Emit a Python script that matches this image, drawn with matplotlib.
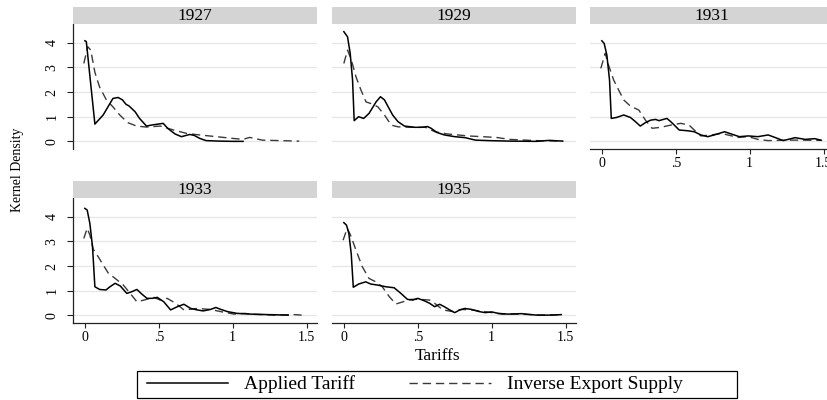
import numpy as np
import matplotlib
matplotlib.use("Agg")
import matplotlib.pyplot as plt
from matplotlib.patches import Rectangle

plt.rcParams['font.family'] = ['Liberation Serif', 'DejaVu Serif']

years = ['1927', '1929', '1931', '1933', '1935']

# Applied tariff (solid) and inverse export supply (dashed)
x_app_1927 = [0, 0.01, 0.068, 0.124, 0.19, 0.225, 0.255, 0.277, 0.30, 0.34, 0.37, 0.417, 0.45, 0.495,
              0.53, 0.56, 0.61, 0.653, 0.71, 0.74, 0.777, 0.82, 0.91, 1.0, 1.07]
y_app_1927 = [4.08, 4.05, 0.70, 1.07, 1.74, 1.78, 1.68, 1.51, 1.43, 1.2, 0.93, 0.62, 0.66, 0.70,
              0.73, 0.53, 0.30, 0.19, 0.28, 0.24, 0.12, 0.03, 0.01, 0.0, 0.0]
x_ies_1927 = [-0.007, 0.02, 0.04, 0.068, 0.1, 0.146, 0.19, 0.236, 0.29, 0.35, 0.417, 0.51, 0.6, 0.69,
              0.777, 0.89, 1.0, 1.07, 1.115, 1.2, 1.32, 1.45]
y_ies_1927 = [3.16, 3.84, 3.7, 2.8, 2.2, 1.68, 1.4, 1.07, 0.76, 0.62, 0.58, 0.62, 0.46, 0.32,
              0.26, 0.19, 0.12, 0.08, 0.16, 0.05, 0.03, 0.01]

x_app_1929 = [0, 0.025, 0.043, 0.059, 0.07, 0.1, 0.134, 0.17, 0.218, 0.248, 0.275, 0.3, 0.33, 0.366,
              0.41, 0.48, 0.525, 0.566, 0.59, 0.63, 0.68, 0.75, 0.82, 0.89, 0.98, 1.12, 1.3, 1.39, 1.48]
y_app_1929 = [4.45, 4.24, 3.57, 2.49, 0.84, 1.0, 0.93, 1.13, 1.6, 1.81, 1.68, 1.4, 1.07, 0.8,
              0.62, 0.57, 0.57, 0.6, 0.53, 0.36, 0.26, 0.19, 0.15, 0.05, 0.03, 0.01, 0.0, 0.04, 0.01]
x_ies_1929 = [0, 0.025, 0.048, 0.082, 0.116, 0.15, 0.195, 0.23, 0.275, 0.32, 0.366, 0.457, 0.55,
              0.616, 0.7, 0.84, 1.03, 1.12, 1.3, 1.48]
y_ies_1929 = [3.16, 3.7, 3.36, 2.62, 2.08, 1.6, 1.51, 1.4, 1.07, 0.66, 0.59, 0.57, 0.57,
              0.39, 0.3, 0.22, 0.16, 0.08, 0.03, 0.01]

x_app_1931 = [0, 0.016, 0.034, 0.052, 0.064, 0.1, 0.148, 0.193, 0.227, 0.26, 0.295, 0.33, 0.364,
              0.386, 0.44, 0.466, 0.5, 0.523, 0.58, 0.625, 0.67, 0.716, 0.76, 0.83, 0.875, 0.93,
              0.99, 1.055, 1.125, 1.17, 1.227, 1.307, 1.375, 1.44, 1.48]
y_app_1931 = [4.08, 3.97, 3.5, 2.49, 0.93, 0.97, 1.07, 0.97, 0.8, 0.62, 0.76, 0.86, 0.89,
              0.84, 0.93, 0.8, 0.6, 0.46, 0.43, 0.39, 0.26, 0.19, 0.26, 0.39, 0.3, 0.19,
              0.22, 0.19, 0.26, 0.16, 0.03, 0.15, 0.08, 0.11, 0.05]
x_ies_1931 = [-0.007, 0.023, 0.045, 0.08, 0.114, 0.148, 0.193, 0.25, 0.295, 0.34, 0.4, 0.466, 0.534,
              0.59, 0.625, 0.67, 0.74, 0.81, 0.852, 0.92, 0.99, 1.055, 1.125, 1.26, 1.35, 1.49]
y_ies_1931 = [2.96, 3.57, 3.1, 2.49, 2.08, 1.68, 1.43, 1.27, 0.86, 0.53, 0.57, 0.66, 0.73,
              0.66, 0.46, 0.22, 0.26, 0.32, 0.26, 0.16, 0.19, 0.08, 0.03, 0.05, 0.05, 0.04]

x_app_1933 = [0, 0.016, 0.034, 0.052, 0.068, 0.1, 0.143, 0.17, 0.205, 0.24, 0.284, 0.318, 0.352,
              0.386, 0.42, 0.455, 0.49, 0.534, 0.58, 0.625, 0.67, 0.716, 0.76, 0.8, 0.85, 0.886,
              0.92, 0.966, 1.03, 1.125, 1.24, 1.375]
y_app_1933 = [4.34, 4.27, 3.73, 2.78, 1.16, 1.05, 1.03, 1.16, 1.3, 1.19, 0.89, 0.96, 1.05,
              0.86, 0.69, 0.69, 0.73, 0.55, 0.22, 0.35, 0.45, 0.28, 0.22, 0.18, 0.24, 0.32,
              0.24, 0.15, 0.08, 0.05, 0.03, 0.01]
x_ies_1933 = [-0.007, 0.016, 0.034, 0.057, 0.09, 0.125, 0.16, 0.205, 0.26, 0.307, 0.352, 0.4, 0.466,
              0.51, 0.557, 0.614, 0.67, 0.76, 0.85, 0.92, 1.01, 1.08, 1.15, 1.285, 1.42, 1.466]
y_ies_1933 = [3.12, 3.53, 3.26, 2.68, 2.38, 2.04, 1.7, 1.5, 1.23, 0.89, 0.55, 0.62, 0.73,
              0.62, 0.69, 0.49, 0.22, 0.28, 0.24, 0.15, 0.05, 0.08, 0.04, 0.01, 0.03, 0.01]

x_app_1935 = [0, 0.018, 0.034, 0.05, 0.064, 0.1, 0.148, 0.182, 0.227, 0.284, 0.34, 0.386, 0.43,
              0.466, 0.5, 0.545, 0.58, 0.614, 0.648, 0.68, 0.716, 0.75, 0.784, 0.818, 0.864,
              0.91, 0.955, 1.0, 1.045, 1.11, 1.2, 1.3, 1.41, 1.47]
y_app_1935 = [3.76, 3.66, 3.32, 2.5, 1.14, 1.27, 1.36, 1.27, 1.23, 1.16, 1.12, 0.89, 0.65,
              0.62, 0.69, 0.59, 0.49, 0.35, 0.45, 0.35, 0.22, 0.11, 0.22, 0.28, 0.24,
              0.16, 0.11, 0.14, 0.08, 0.05, 0.07, 0.01, 0.01, 0.03]
x_ies_1935 = [-0.005, 0.023, 0.045, 0.08, 0.125, 0.17, 0.216, 0.26, 0.307, 0.352, 0.4, 0.455, 0.51,
              0.58, 0.614, 0.67, 0.74, 0.795, 0.864, 0.955, 1.07, 1.18, 1.34, 1.47]
y_ies_1935 = [3.05, 3.53, 3.26, 2.68, 1.97, 1.5, 1.36, 1.16, 0.76, 0.46, 0.55, 0.65, 0.65,
              0.62, 0.49, 0.22, 0.15, 0.24, 0.22, 0.15, 0.05, 0.05, 0.01, 0.03]

applied = [(x_app_1927, y_app_1927), (x_app_1929, y_app_1929), (x_app_1931, y_app_1931),
           (x_app_1933, y_app_1933), (x_app_1935, y_app_1935)]
inverse = [(x_ies_1927, y_ies_1927), (x_ies_1929, y_ies_1929), (x_ies_1931, y_ies_1931),
           (x_ies_1933, y_ies_1933), (x_ies_1935, y_ies_1935)]

x_ticks = [0, 0.5, 1, 1.5]
x_ticklabels = ['0', '.5', '1', '1.5']
y_ticks = [0, 1, 2, 3, 4]

W, H = 828, 400
fig = plt.figure(figsize=(W / 100, H / 100), dpi=100)

def rect(left, top, w, h):
    return [left / W, 1 - (top + h) / H, w / W, h / H]

col_left = [73, 332, 590]
row_top = [24, 198]
strip_top = [7, 181]
pw, ph, sh = 244, 125, 17

# (row, col) for each panel
pos = [(0, 0), (0, 1), (0, 2), (1, 0), (1, 1)]
has_xaxis = [False, False, True, True, True]

lines = []
for i, yr in enumerate(years):
    r, c = pos[i]
    ax = fig.add_axes(rect(col_left[c], row_top[r], pw, ph))
    ax.set_xlim(-0.08, 1.57)
    ax.set_ylim(-0.31, 4.76)
    for yv in y_ticks:
        ax.axhline(yv, color='#e6e6e6', lw=0.9, zorder=0)
    l1, = ax.plot(applied[i][0], applied[i][1], color='black', lw=1.1, zorder=3)
    l2, = ax.plot(inverse[i][0], inverse[i][1], color='#3a3a3a', lw=1.0,
                  dashes=(6, 3.5), zorder=2)
    lines = [l1, l2]

    for s in ['top', 'right']:
        ax.spines[s].set_visible(False)
    ax.spines['left'].set_visible(c == 0)
    ax.spines['bottom'].set_visible(has_xaxis[i])
    ax.spines['left'].set_color('#222222')
    ax.spines['bottom'].set_color('#222222')
    ax.spines['left'].set_linewidth(0.9)
    ax.spines['bottom'].set_linewidth(0.9)

    if c == 0:
        ax.set_yticks(y_ticks)
        ax.set_yticklabels([str(v) for v in y_ticks], rotation=90, va='center', fontsize=10)
        ax.tick_params(axis='y', length=4.5, width=0.8, pad=6, color='#222222')
    else:
        ax.set_yticks([])
    if has_xaxis[i]:
        ax.set_xticks(x_ticks)
        ax.set_xticklabels(x_ticklabels, fontsize=10)
        ax.tick_params(axis='x', length=3.5, width=0.8, pad=2.5, color='#222222')
    else:
        ax.set_xticks([])

    sax = fig.add_axes(rect(col_left[c], strip_top[r], pw, sh))
    sax.set_facecolor('#d4d4d4')
    sax.set_xticks([])
    sax.set_yticks([])
    for s in sax.spines.values():
        s.set_visible(False)
    sax.text(0.5, 0.5, yr, ha='center', va='center', fontsize=12.5, transform=sax.transAxes)

fig.text(18 / W, 1 - 170 / H, 'Kernel Density', rotation=90, ha='center', va='center', fontsize=10)
fig.text(438 / W, 1 - 356 / H, 'Tariffs', ha='center', va='center', fontsize=12.5)

# legend box
fig.patches.append(Rectangle((137 / W, 1 - 398 / H), 600 / W, 27 / H, transform=fig.transFigure,
                             fill=False, edgecolor='black', lw=0.9))
fig.legend(lines, ['Applied Tariff', 'Inverse Export Supply'], ncol=2, frameon=False,
           loc='center left', bbox_to_anchor=(137 / W, 1 - 384.5 / H), borderaxespad=0,
           borderpad=0.5, fontsize=14, handlelength=4.2, handletextpad=0.8, columnspacing=2.8)

fig.savefig('out.png', dpi=100)
